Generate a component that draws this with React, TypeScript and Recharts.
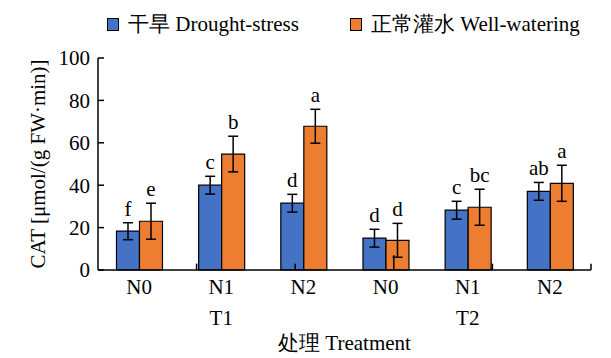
import React from "react";
import {
  BarChart,
  Bar,
  XAxis,
  YAxis,
  ErrorBar,
  LabelList,
  ReferenceLine,
  Legend,
} from "recharts";

const nitrogen = ["N0", "N1", "N2", "N0", "N1", "N2"];
const treatment = ["T1", "T1", "T1", "T2", "T2", "T2"];
const drought = [18.3, 40, 31.5, 15, 28.2, 37.1];
const droughtErr = [4, 4.2, 4.2, 4.2, 4.2, 4.2];
const droughtSig = ["f", "c", "d", "d", "c", "ab"];
const watering = [23, 54.7, 67.8, 14, 29.6, 40.9];
const wateringErr = [8.5, 8.4, 8, 8, 8.5, 8.5];
const wateringSig = ["e", "b", "a", "d", "bc", "a"];
const yTicks = [0, 20, 40, 60, 80, 100];

const data = nitrogen.map((n, i) => ({
  n,
  t: treatment[i],
  drought: drought[i],
  droughtErr: droughtErr[i],
  droughtSig: droughtSig[i],
  watering: watering[i],
  wateringErr: wateringErr[i],
  wateringSig: wateringSig[i],
}));

const FONT = '"Liberation Serif", serif';
const FS = 21;
const BLUE = "#4472C4";
const ORANGE = "#ED7D31";

function XTick(props: any) {
  const { x, y, payload, index } = props;
  const showT = index === 1 || index === 4;
  return (
    <g>
      <text x={x} y={y + 16} textAnchor="middle" fontSize={FS} fontFamily={FONT} fill="#000">
        {payload.value}
      </text>
      {showT && (
        <text x={x} y={y + 47} textAnchor="middle" fontSize={FS} fontFamily={FONT} fill="#000">
          {data[index].t}
        </text>
      )}
    </g>
  );
}

function sigLabel(errKey: string, sigKey: string) {
  return (props: any) => {
    const { x, y, width, height, index } = props;
    const row: any = data[index];
    const v = row[errKey === "droughtErr" ? "drought" : "watering"];
    const errPx = (height * row[errKey]) / v;
    return (
      <text
        x={x + width / 2}
        y={y - errPx - 7}
        textAnchor="middle"
        fontSize={FS}
        fontFamily={FONT}
        fill="#000"
      >
        {row[sigKey]}
      </text>
    );
  };
}

function LegendContent() {
  const item = (color: string, label: string, left: number) => (
    <div style={{ position: "absolute", left, top: 0, display: "flex", alignItems: "center" }}>
      <span
        style={{
          display: "inline-block",
          width: 10,
          height: 11,
          background: color,
          border: "1px solid #000",
          marginRight: 9,
        }}
      />
      <span style={{ fontSize: FS, fontFamily: FONT, color: "#000", whiteSpace: "nowrap" }}>{label}</span>
    </div>
  );
  return (
    <div style={{ position: "relative", height: 26 }}>
      {item(BLUE, "干旱 Drought-stress", 107)}
      {item(ORANGE, "正常灌水 Well-watering", 350)}
    </div>
  );
}

const boundaryTicks = [1, 2, 4, 5, 6];

export default function App() {
  return (
    <div style={{ position: "absolute", left: 0, top: 0, background: "#fff", fontFamily: FONT }}>
      <BarChart
        width={611}
        height={358}
        data={data}
        margin={{ top: 32, right: 20, bottom: 0, left: 0 }}
        barCategoryGap="22.5%"
        barGap={0}
      >
        <Legend
          verticalAlign="top"
          content={<LegendContent />}
          wrapperStyle={{ top: 10, left: 0, width: 611 }}
        />
        <XAxis
          dataKey="n"
          interval={0}
          tickLine={false}
          axisLine={{ stroke: "#000", strokeWidth: 1.5 }}
          tick={<XTick />}
          height={88}
          label={{
            value: "处理 Treatment",
            position: "insideBottom",
            offset: 8,
            fontSize: FS,
            fontFamily: FONT,
            fill: "#000",
          }}
        />
        <XAxis xAxisId="num" type="number" domain={[0, 6]} hide />
        <YAxis
          domain={[0, 100]}
          ticks={yTicks}
          width={98}
          tickSize={-6}
          tickMargin={14}
          axisLine={{ stroke: "#000", strokeWidth: 1.5 }}
          tickLine={{ stroke: "#000", strokeWidth: 1.5 }}
          tick={{ fontSize: FS, fontFamily: FONT, fill: "#000" }}
          label={{
            value: "CAT [μmol/(g FW·min)]",
            angle: -90,
            position: "insideLeft",
            offset: 38,
            style: { textAnchor: "middle" },
            fontSize: FS,
            fontFamily: FONT,
            fill: "#000",
          }}
        />
        {boundaryTicks.map((b) => (
          <ReferenceLine
            key={b}
            xAxisId="num"
            segment={[
              { x: b, y: 0 },
              { x: b, y: 3 },
            ]}
            stroke="#000"
            strokeWidth={1.5}
          />
        ))}
        <ReferenceLine
          xAxisId="num"
          segment={[
            { x: 3, y: 0 },
            { x: 3, y: 7 },
          ]}
          stroke="#000"
          strokeWidth={1.5}
        />
        <Bar dataKey="drought" fill={BLUE} stroke="#000" strokeWidth={1.2} isAnimationActive={false}>
          <ErrorBar dataKey="droughtErr" width={5} stroke="#000" strokeWidth={1.5} />
          <LabelList content={sigLabel("droughtErr", "droughtSig")} />
        </Bar>
        <Bar dataKey="watering" fill={ORANGE} stroke="#000" strokeWidth={1.2} isAnimationActive={false}>
          <ErrorBar dataKey="wateringErr" width={5} stroke="#000" strokeWidth={1.5} />
          <LabelList content={sigLabel("wateringErr", "wateringSig")} />
        </Bar>
      </BarChart>
    </div>
  );
}
